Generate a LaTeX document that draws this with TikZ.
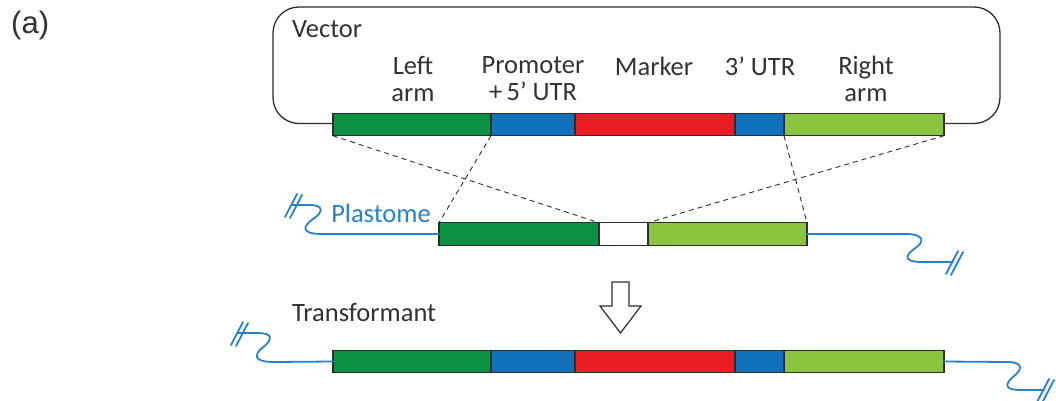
\documentclass[tikz,border=0pt]{standalone}
\usepackage{fontspec}
\setmainfont{Carlito}
\newfontfamily\arialf{Liberation Sans}
\usetikzlibrary{calc}
\definecolor{dgreen}{RGB}{12,146,68}
\definecolor{sblue}{RGB}{18,113,187}
\definecolor{sred}{RGB}{236,28,36}
\definecolor{lgreen}{RGB}{139,197,63}
\definecolor{lineblue}{RGB}{40,128,200}
\definecolor{txtgray}{RGB}{50,50,50}
\definecolor{edge}{RGB}{45,45,45}
\tikzset{
  seg/.style={draw=edge, line width=1.3pt, minimum height=22.5, inner sep=0, anchor=west, outer sep=0},
  lbl/.style={text=txtgray, font=\fontsize{26.5}{27}\selectfont, align=center, inner sep=0},
  dsh/.style={draw=edge, dashed, dash pattern=on 5pt off 4pt, line width=0.9pt},
  wire/.style={draw=lineblue, line width=1.8pt, line cap=round},
}
\newcommand{\slashpair}[1]{%
  \draw[wire] ($(#1)+(-7,12)$) -- ($(#1)+(5,-11)$);
  \draw[wire] ($(#1)+(-2,13)$) -- ($(#1)+(10,-10)$);
}
\begin{document}
\begin{tikzpicture}[x=1pt,y=-1pt]
\useasboundingbox (0,0) rectangle (1056,401);
% label (a)
\node[anchor=west, inner sep=0, font=\arialf\fontsize{31}{36}\selectfont, text=txtgray] (lab) at (11,25) {(a)};
% vector box
\draw[draw=edge, line width=1.3pt, rounded corners=26pt] (273,7) rectangle (1000,123.5);
\node[lbl, anchor=west] (vec) at (292,29) {Vector};
% top construct
\node[seg, fill=dgreen, minimum width=158] (t1) at (333,124.5) {};
\node[seg, fill=sblue, minimum width=84] (t2) at (t1.east) {};
\node[seg, fill=sred, minimum width=160] (t3) at (t2.east) {};
\node[seg, fill=sblue, minimum width=49] (t4) at (t3.east) {};
\node[seg, fill=lgreen, minimum width=160] (t5) at (t4.east) {};
% labels
\node[lbl] (l1) at (413,79) {Left\\arm};
\node[lbl] (l2) at (533,79) {Promoter\\+\,5\textquoteright\ UTR};
\node[lbl] (l3) at (654,66) {Marker};
\node[lbl] (l4) at (760,66) {3\textquoteright\ UTR};
\node[lbl] (l5) at (866,79) {Right\\arm};
% plastome
\node[seg, fill=dgreen, minimum width=160] (m1) at (439,234) {};
\node[seg, fill=white, minimum width=49] (m2) at (m1.east) {};
\node[seg, fill=lgreen, minimum width=159] (m3) at (m2.east) {};
\node[lbl, text=lineblue] (pl) at (381,213) {Plastome};
% dashed crossover lines
\draw[dsh] (t1.south west) -- (m2.north west);
\draw[dsh] (t2.south west) -- (m1.north west);
\draw[dsh] (t5.south west) -- (m3.north east);
\draw[dsh] (t5.south east) -- (m3.north west);
% wires middle
\coordinate (wl) at (292,205);
\coordinate (wr) at (953,262);
\draw[wire] (m1.west) -- (322,234) .. controls (300,234) and (303,226) .. (313,219)
  .. controls (325,211) and (322,205) .. (310,205) -- (wl);
\slashpair{wl}
\draw[wire] (m3.east) -- (905,234) .. controls (925,234) and (925,242) .. (914,249)
  .. controls (903,257) and (906,262) .. (922,262) -- (wr);
\slashpair{wr}
% arrow
\draw[draw=edge, line width=1.2pt, fill=white, line join=miter]
  (612,282) -- (629,282) -- (629,306) -- (641,306) -- (620.5,333) -- (600,306) -- (612,306) -- cycle;
% transformant
\node[lbl, anchor=west] (tr) at (292,313) {Transformant};
\node[seg, fill=dgreen, minimum width=158] (b1) at (333,361.5) {};
\node[seg, fill=sblue, minimum width=84] (b2) at (b1.east) {};
\node[seg, fill=sred, minimum width=160] (b3) at (b2.east) {};
\node[seg, fill=sblue, minimum width=49] (b4) at (b3.east) {};
\node[seg, fill=lgreen, minimum width=160] (b5) at (b4.east) {};
\coordinate (bl) at (238,333);
\coordinate (br) at (1044,390);
\draw[wire] (b1.west) -- (274,362) .. controls (252,362) and (255,354) .. (262,348)
  .. controls (274,339) and (272,333) .. (258,333) -- (bl);
\slashpair{bl}
\draw[wire] (b5.east) -- (1007,362) .. controls (1024,362) and (1022,370) .. (1014,376)
  .. controls (1003,385) and (1006,390) .. (1020,390) -- (br);
\slashpair{br}
\end{tikzpicture}
\end{document}
